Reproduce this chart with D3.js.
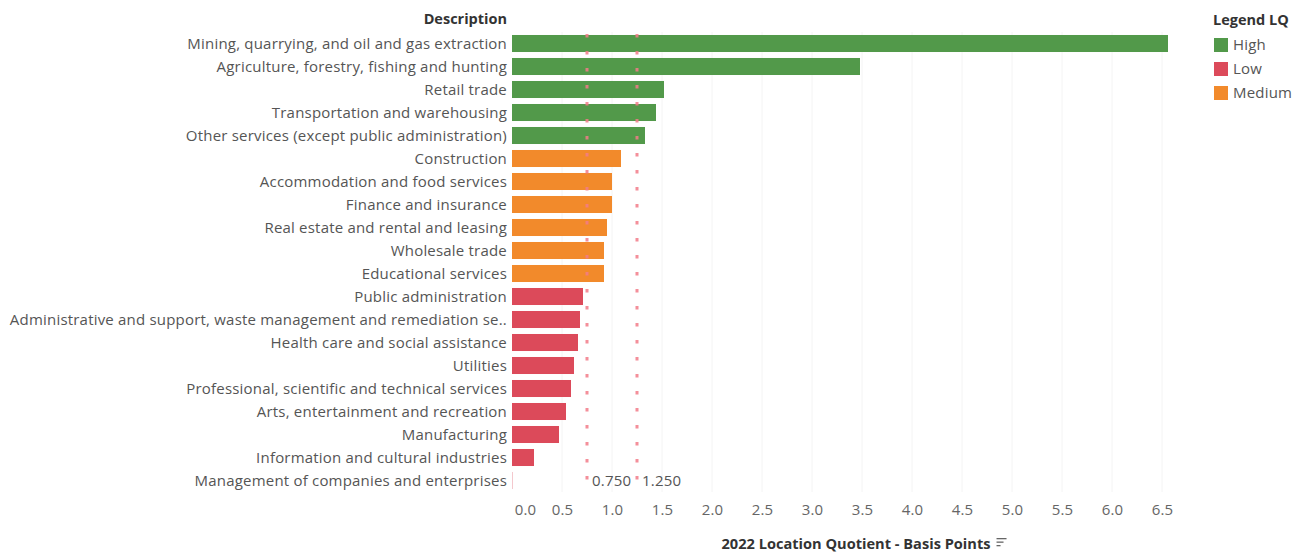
<!DOCTYPE html>
<html>
<head>
<meta charset="utf-8">
<script src="https://cdn.jsdelivr.net/npm/d3@7"></script>
<style>
  html, body { margin: 0; padding: 0; background: #ffffff; }
  svg { display: block; }
  text { font-family: "Open Sans", "Noto Sans", sans-serif; }
</style>
</head>
<body>
<svg id="chart" width="1303" height="552"></svg>
<script>
const categories = [
  "Mining, quarrying, and oil and gas extraction",
  "Agriculture, forestry, fishing and hunting",
  "Retail trade",
  "Transportation and warehousing",
  "Other services (except public administration)",
  "Construction",
  "Accommodation and food services",
  "Finance and insurance",
  "Real estate and rental and leasing",
  "Wholesale trade",
  "Educational services",
  "Public administration",
  "Administrative and support, waste management and remediation se..",
  "Health care and social assistance",
  "Utilities",
  "Professional, scientific and technical services",
  "Arts, entertainment and recreation",
  "Manufacturing",
  "Information and cultural industries",
  "Management of companies and enterprises"
];
const values = [6.56, 3.48, 1.52, 1.44, 1.33, 1.09, 1.00, 1.00, 0.95, 0.92, 0.92,
                0.71, 0.68, 0.66, 0.62, 0.59, 0.54, 0.47, 0.22, 0.01];
const levels = ["High","High","High","High","High","Medium","Medium","Medium","Medium","Medium","Medium",
                "Low","Low","Low","Low","Low","Low","Low","Low","Low"];
const legendItems = ["High", "Low", "Medium"];
const legendColors = ["#52994a", "#dc4a5a", "#f28a2b"];
const refLines = [0.75, 1.25];
const refLabels = ["0.750", "1.250"];
const tickValues = [0, 0.5, 1, 1.5, 2, 2.5, 3, 3.5, 4, 4.5, 5, 5.5, 6, 6.5];
const tickLabels = ["0.0","0.5","1.0","1.5","2.0","2.5","3.0","3.5","4.0","4.5","5.0","5.5","6.0","6.5"];

const data = categories.map((c, i) => ({ cat: c, v: values[i], lvl: levels[i] }));

const FS = 15;
const LS = "0.2px";

const svg = d3.select("#chart");
const x = d3.scaleLinear().domain([0, 6.68]).range([512, 1180]);
const y = d3.scaleBand().domain(categories).range([32, 492]).paddingInner(0.26).paddingOuter(0.13);
const color = d3.scaleOrdinal().domain(legendItems).range(legendColors);

// faint gridlines
svg.append("g").selectAll("line").data(tickValues.slice(1)).join("line")
  .attr("x1", d => x(d)).attr("x2", d => x(d))
  .attr("y1", 32).attr("y2", 492)
  .attr("stroke", "#f4f4f4").attr("stroke-width", 1);

// bars
svg.append("g").selectAll("rect").data(data).join("rect")
  .attr("x", x(0))
  .attr("y", d => y(d.cat))
  .attr("width", d => Math.max(1, x(d.v) - x(0)))
  .attr("height", y.bandwidth())
  .attr("fill", d => color(d.lvl))
  .attr("opacity", d => d.v < 0.05 ? 0.3 : 1);

// reference lines
svg.append("g").selectAll("line").data(refLines).join("line")
  .attr("x1", d => x(d)).attr("x2", d => x(d))
  .attr("y1", 34).attr("y2", 492)
  .attr("stroke", "#f27b88").attr("stroke-opacity", 0.85)
  .attr("stroke-width", 3)
  .attr("stroke-dasharray", "3.5,13.5");

svg.append("g").selectAll("text").data(refLines).join("text")
  .attr("x", d => x(d) + 5)
  .attr("y", y(categories[categories.length - 1]) + y.bandwidth() / 2)
  .attr("dy", "0.35em")
  .attr("font-size", FS).attr("letter-spacing", LS)
  .attr("fill", "#555")
  .text((d, i) => refLabels[i]);

// category labels
svg.append("g").selectAll("text").data(categories).join("text")
  .attr("x", 507)
  .attr("y", d => y(d) + y.bandwidth() / 2)
  .attr("dy", "0.35em")
  .attr("text-anchor", "end")
  .attr("font-size", FS).attr("letter-spacing", LS)
  .attr("fill", "#555")
  .text(d => d);

// header
svg.append("text")
  .attr("x", 507).attr("y", 24)
  .attr("text-anchor", "end")
  .attr("font-size", 14.5).attr("font-weight", "bold")
  .attr("fill", "#333")
  .text("Description");

// x axis tick labels
const xAxis = d3.axisBottom(x).tickValues(tickValues).tickFormat((d, i) => tickLabels[i]).tickSize(0).tickPadding(0);
const gx = svg.append("g").attr("transform", "translate(0,504)").call(xAxis);
gx.select(".domain").remove();
gx.selectAll("text")
  .attr("font-size", FS).attr("letter-spacing", LS)
  .attr("fill", "#666")
  .attr("font-family", "\"Open Sans\", \"Noto Sans\", sans-serif")
  .attr("dx", d => d === 0 ? 13 : 0);

// axis title
const title = svg.append("text")
  .attr("x", 856).attr("y", 549)
  .attr("text-anchor", "middle")
  .attr("font-size", 14.6).attr("font-weight", "bold")
  .attr("fill", "#333")
  .text("2022 Location Quotient - Basis Points");
const tb = title.node().getBBox();
const ix = tb.x + tb.width + 6;
const icon = svg.append("g").attr("fill", "#666");
[10, 7, 4].forEach((w, i) => {
  icon.append("rect").attr("x", ix).attr("y", 538 + i * 3.5).attr("width", w).attr("height", 1.3);
});

// legend
const lg = svg.append("g");
lg.append("text").attr("x", 1213).attr("y", 25)
  .attr("font-size", 14.5).attr("font-weight", "bold").attr("fill", "#333")
  .text("Legend LQ");
const li = lg.selectAll("g.item").data(legendItems).join("g").attr("class", "item")
  .attr("transform", (d, i) => `translate(1214, ${38 + i * 24})`);
li.append("rect").attr("width", 14).attr("height", 14).attr("fill", d => color(d));
li.append("text").attr("x", 19).attr("y", 7).attr("dy", "0.35em")
  .attr("font-size", FS).attr("letter-spacing", LS).attr("fill", "#555").text(d => d);
</script>
</body>
</html>
